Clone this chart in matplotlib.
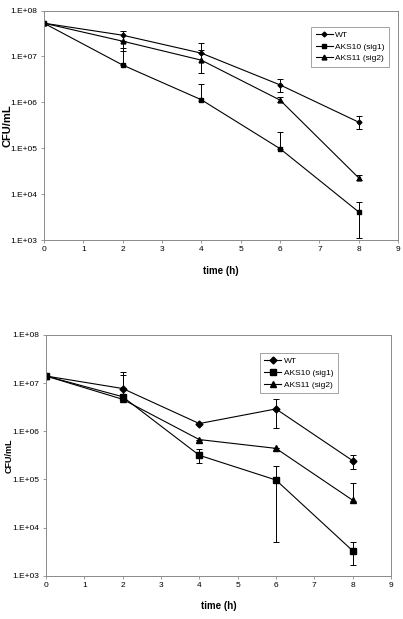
import numpy as np
import matplotlib
matplotlib.use('Agg')
from matplotlib import pyplot as plt
from matplotlib.ticker import FixedLocator, FixedFormatter, NullLocator

plt.rcParams['font.family'] = ['Liberation Sans', 'DejaVu Sans']

t = [0, 2, 4, 6, 8]
labels = ['WT', 'AKS10 (sig1)', 'AKS11 (sig2)']

# top panel: mean, lower end of bar, upper end of bar
top_wt = [5.3e7, 2.9e7, 1.18e7, 2.4e6, 3.7e5]
top_wt_lo = [5.3e7, 2.2e7, 1.18e7, 1.7e6, 2.6e5]
top_wt_hi = [5.3e7, 3.5e7, 2.0e7, 3.2e6, 5.0e5]

top_s1 = [5.3e7, 6.5e6, 1.14e6, 9.8e4, 4.1e3]
top_s1_lo = [5.3e7, 6.5e6, 1.05e6, 9.8e4, 1.1e3]
top_s1_hi = [5.3e7, 1.5e7, 2.5e6, 2.26e5, 6.8e3]

top_s2 = [5.3e7, 2.15e7, 8.3e6, 1.12e6, 2.26e4]
top_s2_lo = [5.3e7, 1.3e7, 4.4e6, 1.0e6, 2.0e4]
top_s2_hi = [5.3e7, 2.15e7, 1.4e7, 1.3e6, 2.6e4]

# bottom panel
bot_wt = [1.4e7, 7.7e6, 1.44e6, 2.9e6, 2.45e5]
bot_wt_lo = [1.4e7, 7.7e6, 1.44e6, 1.19e6, 1.67e5]
bot_wt_hi = [1.4e7, 1.7e7, 1.44e6, 4.6e6, 3.27e5]

bot_s1 = [1.4e7, 5.2e6, 3.16e5, 9.7e4, 3.3e3]
bot_s1_lo = [1.4e7, 5.2e6, 2.2e5, 4.9e3, 1.7e3]
bot_s1_hi = [1.4e7, 1.48e7, 4.2e5, 1.9e5, 4.9e3]

bot_s2 = [1.4e7, 4.6e6, 6.7e5, 4.4e5, 3.7e4]
bot_s2_lo = [1.4e7, 4.3e6, 6.7e5, 4.4e5, 3.5e4]
bot_s2_hi = [1.4e7, 5.0e6, 6.7e5, 4.4e5, 8.5e4]

yticks = [1e3, 1e4, 1e5, 1e6, 1e7, 1e8]
ylabels = ['1.E+03', '1.E+04', '1.E+05', '1.E+06', '1.E+07', '1.E+08']
markers = ['D', 's', '^']
frame_col = '#8a8a8a'


def panel(ax, series, msize, legend_box, ylab_size, ylab_x):
    handles = []
    for (y, lo, hi), m, lab in zip(series, markers, labels):
        y = np.array(y)
        err = [y - np.array(lo), np.array(hi) - y]
        ms = msize * 0.7 if m == 'D' else msize
        cont = ax.errorbar(t, y, yerr=err, color='black', lw=0.8, marker=m,
                           ms=ms, capsize=2, elinewidth=0.7, capthick=0.7,
                           label=lab)
        handles.append(cont.lines[0])
    ax.set_yscale('log')
    ax.set_ylim(1e3, 1e8)
    ax.set_xlim(0, 9)
    ax.yaxis.set_major_locator(FixedLocator(yticks))
    ax.yaxis.set_major_formatter(FixedFormatter(ylabels))
    ax.yaxis.set_minor_locator(NullLocator())
    ax.set_xticks(range(10))
    ax.tick_params(labelsize=6, length=2.5, width=0.6, color=frame_col,
                   direction='out', pad=2)
    for s in ax.spines.values():
        s.set_color(frame_col)
        s.set_linewidth(0.7)
    ax.set_xlabel('time (h)', fontsize=7, fontweight='bold', labelpad=9)
    ax.set_ylabel('CFU/mL', fontsize=ylab_size, fontweight='bold')
    ax.yaxis.set_label_coords(ylab_x, 0.5)
    leg = ax.legend(handles=handles, labels=labels, loc='upper left',
                    bbox_to_anchor=legend_box, fontsize=6, frameon=True,
                    fancybox=False, borderpad=0.55, handlelength=2.0,
                    handletextpad=0.3, labelspacing=0.45, borderaxespad=0)
    leg.get_frame().set_edgecolor(frame_col)
    leg.get_frame().set_linewidth(0.7)


fig = plt.figure(figsize=(4.03, 6.19), dpi=100)
ax1 = fig.add_axes([0.109, 0.612, 0.879, 0.371])
ax2 = fig.add_axes([0.114, 0.070, 0.856, 0.389])

panel(ax1, [(top_wt, top_wt_lo, top_wt_hi),
            (top_s1, top_s1_lo, top_s1_hi),
            (top_s2, top_s2_lo, top_s2_hi)], 3.5, (0.755, 0.93), 8, -0.09)
panel(ax2, [(bot_wt, bot_wt_lo, bot_wt_hi),
            (bot_s1, bot_s1_lo, bot_s1_hi),
            (bot_s2, bot_s2_lo, bot_s2_hi)], 5, (0.62, 0.925), 6.5, -0.093)

fig.savefig('out.png', dpi=100)
